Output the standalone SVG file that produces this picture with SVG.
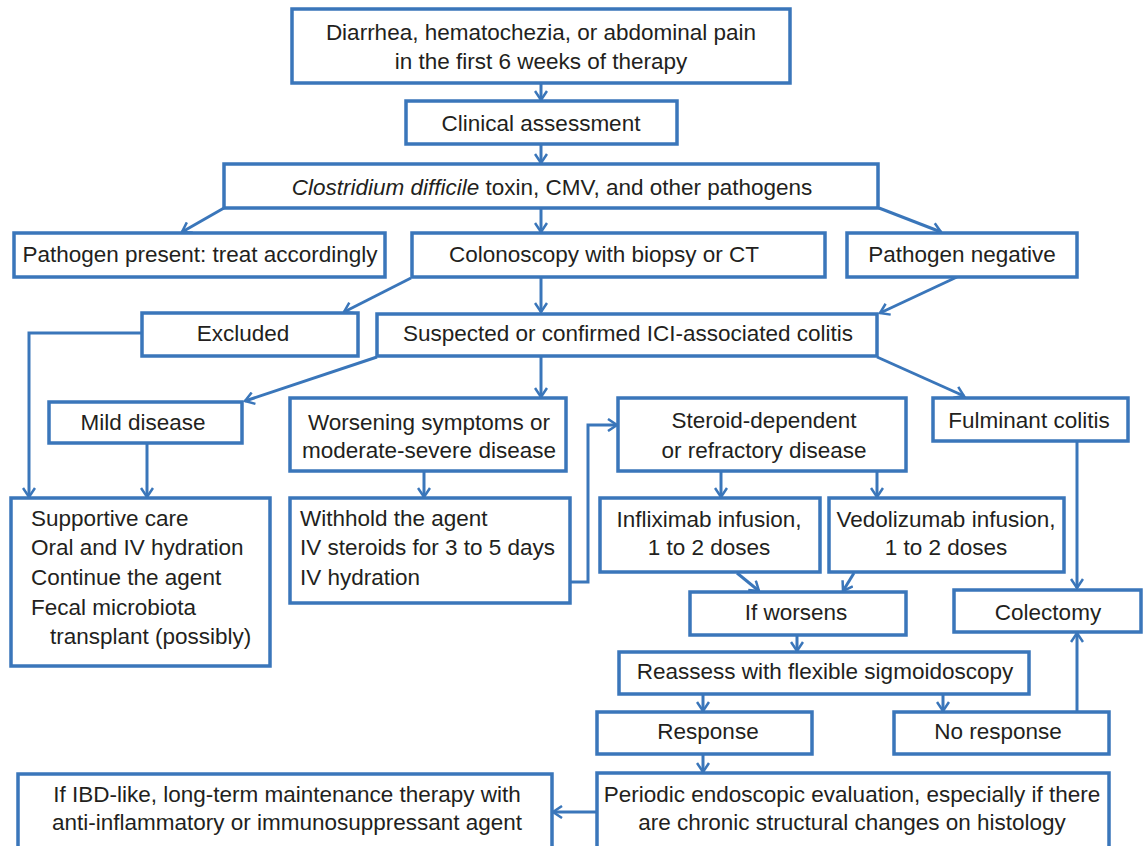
<svg xmlns="http://www.w3.org/2000/svg" width="1144" height="846" viewBox="0 0 1144 846">
<defs>
<style>
.b{fill:#fff;stroke:#3a76ba;stroke-width:3.5}
.c{fill:none;stroke:#3a76ba;stroke-width:3}
text{font-family:"Liberation Sans",Arial,sans-serif;font-size:22.5px;fill:#231f20}
.m{text-anchor:middle}
</style>
<marker id="ah" markerWidth="14" markerHeight="14" refX="11" refY="7" orient="auto" markerUnits="userSpaceOnUse" viewBox="0 0 14 14">
<path d="M2,1 L11,7 L2,13" fill="none" stroke="#3a76ba" stroke-width="2.5"/>
</marker>
</defs>
<rect width="1144" height="846" fill="#fff"/>
<g id="connectors" class="c" marker-end="url(#ah)">
<path d="M541,83 V100"/>
<path d="M541,144 V163"/>
<path d="M224,208 L182,232"/>
<path d="M541,208 V232"/>
<path d="M879,208 L941,232"/>
<path d="M411,278 L344,312"/>
<path d="M541,277 V312"/>
<path d="M957,277 L880,313"/>
<path d="M142,333 H29 V497"/>
<path d="M377,357 L245,401"/>
<path d="M541,357 V397"/>
<path d="M877,357 L964,396"/>
<path d="M147,443 V497"/>
<path d="M424,471 V497"/>
<path d="M570,582 H588 V425 H617"/>
<path d="M721,471 V497"/>
<path d="M877,471 V497"/>
<path d="M1077,441 V588"/>
<path d="M737,573 L759,591"/>
<path d="M854,573 L843,591"/>
<path d="M797,635 V651"/>
<path d="M703,694 V711"/>
<path d="M943,694 V711"/>
<path d="M1077,712 V633"/>
<path d="M703,754 V772"/>
<path d="M597,812 H553"/>
</g>
<g id="n1"><rect class="b" x="292" y="9" width="498" height="74"/><text class="m" x="541" y="40">Diarrhea, hematochezia, or abdominal pain</text><text class="m" x="541" y="69">in the first 6 weeks of therapy</text></g>
<g id="n2"><rect class="b" x="406" y="101" width="271" height="43"/><text class="m" x="541" y="131">Clinical assessment</text></g>
<g id="n3"><rect class="b" x="224" y="164" width="654" height="44"/><text class="m" x="552" y="195"><tspan font-style="italic">Clostridium difficile</tspan> toxin, CMV, and other pathogens</text></g>
<g id="n4"><rect class="b" x="14" y="233" width="371" height="44"/><text class="m" x="200" y="262">Pathogen present: treat accordingly</text></g>
<g id="n5"><rect class="b" x="412" y="233" width="413" height="44"/><text class="m" x="604" y="262">Colonoscopy with biopsy or CT</text></g>
<g id="n6"><rect class="b" x="847" y="233" width="230" height="44"/><text class="m" x="962" y="262">Pathogen negative</text></g>
<g id="n7"><rect class="b" x="142" y="313" width="216" height="43"/><text class="m" x="243" y="341">Excluded</text></g>
<g id="n8"><rect class="b" x="377" y="314" width="500" height="42"/><text class="m" x="628" y="341">Suspected or confirmed ICI-associated colitis</text></g>
<g id="n9"><rect class="b" x="49" y="402" width="193" height="41"/><text class="m" x="143" y="430">Mild disease</text></g>
<g id="n10"><rect class="b" x="290" y="398" width="276" height="73"/><text class="m" x="429" y="430">Worsening symptoms or</text><text class="m" x="429" y="458">moderate-severe disease</text></g>
<g id="n11"><rect class="b" x="618" y="398" width="288" height="73"/><text class="m" x="764" y="428">Steroid-dependent</text><text class="m" x="764" y="458">or refractory disease</text></g>
<g id="n12"><rect class="b" x="933" y="398" width="195" height="43"/><text class="m" x="1029" y="428">Fulminant colitis</text></g>
<g id="n13"><rect class="b" x="11" y="498" width="259" height="168"/><text x="31" y="526">Supportive care</text><text x="31" y="555">Oral and IV hydration</text><text x="31" y="585">Continue the agent</text><text x="31" y="615">Fecal microbiota</text><text x="50" y="644">transplant (possibly)</text></g>
<g id="n14"><rect class="b" x="290" y="498" width="280" height="105"/><text x="300" y="526">Withhold the agent</text><text x="300" y="555">IV steroids for 3 to 5 days</text><text x="300" y="585">IV hydration</text></g>
<g id="n15"><rect class="b" x="600" y="498" width="220" height="74"/><text class="m" x="709" y="527">Infliximab infusion,</text><text class="m" x="709" y="555">1 to 2 doses</text></g>
<g id="n16"><rect class="b" x="829" y="498" width="235" height="74"/><text class="m" x="946" y="527">Vedolizumab infusion,</text><text class="m" x="946" y="555">1 to 2 doses</text></g>
<g id="n17"><rect class="b" x="690" y="592" width="216" height="43"/><text class="m" x="796" y="620">If worsens</text></g>
<g id="n18"><rect class="b" x="954" y="590" width="187" height="42"/><text class="m" x="1048" y="620">Colectomy</text></g>
<g id="n19"><rect class="b" x="619" y="652" width="410" height="42"/><text class="m" x="825" y="679">Reassess with flexible sigmoidoscopy</text></g>
<g id="n20"><rect class="b" x="597" y="712" width="215" height="42"/><text class="m" x="708" y="739">Response</text></g>
<g id="n21"><rect class="b" x="894" y="712" width="215" height="42"/><text class="m" x="998" y="739">No response</text></g>
<g id="n22"><rect class="b" x="597" y="773" width="512" height="80"/><text class="m" x="852" y="802">Periodic endoscopic evaluation, especially if there</text><text class="m" x="852" y="830">are chronic structural changes on histology</text></g>
<g id="n23"><rect class="b" x="18" y="774" width="534" height="79"/><text class="m" x="287" y="802">If IBD-like, long-term maintenance therapy with</text><text class="m" x="287" y="830">anti-inflammatory or immunosuppressant agent</text></g>
</svg>
